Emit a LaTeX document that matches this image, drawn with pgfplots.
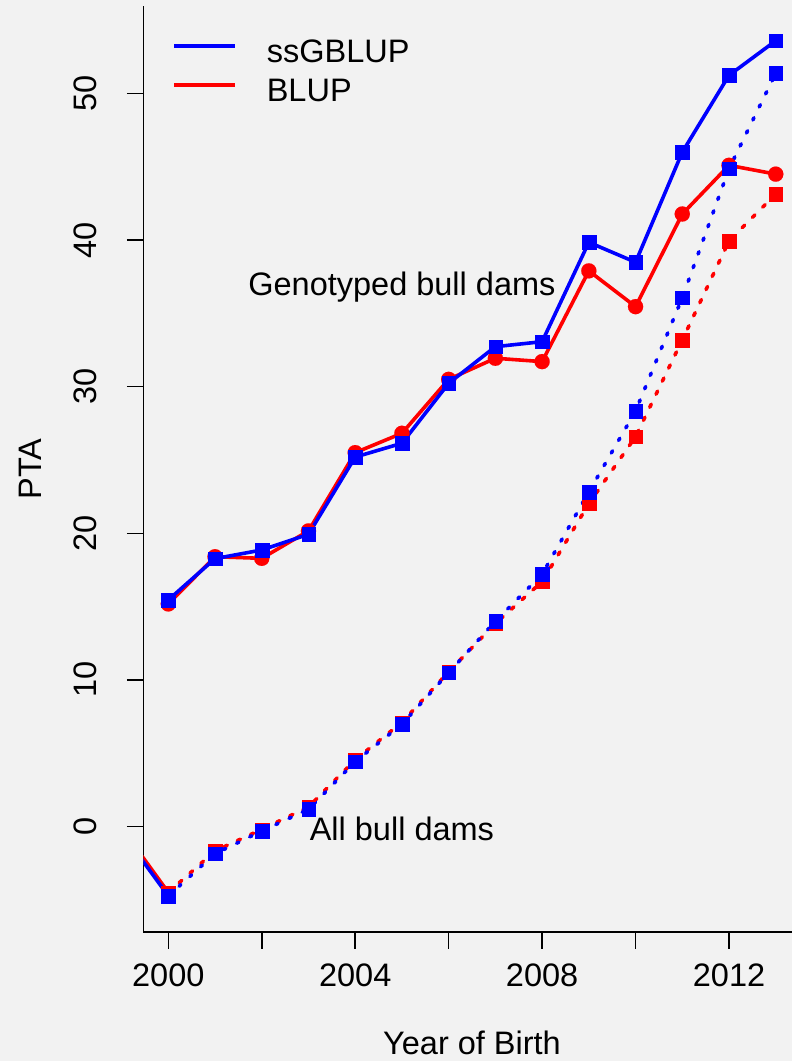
\documentclass[border=0pt]{standalone}
\usepackage{fontspec}
\setmainfont{Liberation Sans}
\usepackage{pgfplots}
\pgfplotsset{compat=1.18}
\definecolor{bg}{HTML}{F2F2F2}
\definecolor{pblue}{HTML}{0000FF}
\definecolor{pred}{HTML}{FF0000}
\newcommand{\bigfont}{\fontsize{32.5}{39}\selectfont}

\begin{document}
\begin{tikzpicture}
\path[use as bounding box, fill=bg] (0,0) rectangle (792pt,1061pt);
\begin{axis}[
  at={(143.3pt,129pt)}, anchor=south west,
  scale only axis, width=648.7pt, height=926pt,
  xmin=1999.465, xmax=2013.348, ymin=-7.20, ymax=55.97,
  axis x line=bottom, axis y line=left,
  axis line style={-, line width=1.5pt, black},
  tick align=outside, major tick length=16.5pt,
  tick style={line width=1.5pt, black},
  xtick={2000,2002,...,2012},
  xticklabels={2000,,2004,,2008,,2012},
  ytick={0,10,...,50},
  /pgf/number format/assume math mode=true,
  ticklabel style={font=\bigfont},
  xticklabel style={anchor=base, yshift=-38pt},
  yticklabel style={anchor=base, xshift=-30pt, rotate=90},
  every axis x label/.style={at={(axis cs:2006.5,-7.2)}, anchor=base, yshift=-122pt, font=\bigfont},
  every axis y label/.style={at={(rel axis cs:0,0.5)}, xshift=-101.3pt, rotate=90, anchor=base, font=\bigfont},
  xlabel={Year of Birth},
  ylabel={PTA},
  legend style={at={(rel axis cs:0,1)}, anchor=north west, xshift=28.7pt, yshift=-32pt,
    draw=none, fill=none, font=\bigfont, inner sep=0pt, row sep=15pt, column sep=30pt,
    nodes={inner sep=0pt, text height=24pt, text depth=0pt}},
  legend cell align=left,
  legend image code/.code={\draw[#1, mark=none, solid] (0pt,4.3pt) -- (61pt,4.3pt);},
  reverse legend,
  clip=true,
]
% lead-in segments from 1999 (outside the plotted range)
\addplot[pred, line width=3.6pt, forget plot] coordinates {(1999,-0.1) (2000,-4.5)};
\addplot[pblue, line width=3.6pt, forget plot] coordinates {(1999,-0.37) (2000,-4.74)};

% all bull dams, BLUP
\addplot[pred, line width=3.6pt, line cap=round, dash pattern=on 3.5pt off 11pt,
  mark=square*, mark size=6.8pt, mark options={solid, line width=0.1pt}, forget plot]
  coordinates {(2000,-4.5) (2001,-1.67) (2002,-0.2) (2003,1.33) (2004,4.55) (2005,7.1)
   (2006,10.55) (2007,13.85) (2008,16.7) (2009,22.02) (2010,26.59) (2011,33.19)
   (2012,39.94) (2013,43.14)};
% genotyped bull dams, BLUP
\addplot[pred, line width=3.6pt, mark=*, mark size=7.6pt, mark options={solid, fill=pred, line width=0.1pt}]
  coordinates {(2000,15.18) (2001,18.4) (2002,18.29) (2003,20.16) (2004,25.5) (2005,26.82)
   (2006,30.5) (2007,31.94) (2008,31.71) (2009,37.9) (2010,35.46) (2011,41.78)
   (2012,45.1) (2013,44.5)};
\addlegendentry{BLUP}
% all bull dams, ssGBLUP
\addplot[pblue, line width=3.6pt, line cap=round, dash pattern=on 2.5pt off 12pt,
  mark=square*, mark size=6.8pt, mark options={solid, line width=0.1pt}, forget plot]
  coordinates {(2000,-4.74) (2001,-1.86) (2002,-0.31) (2003,1.17) (2004,4.42) (2005,6.97)
   (2006,10.49) (2007,14.0) (2008,17.2) (2009,22.82) (2010,28.34) (2011,36.07)
   (2012,44.87) (2013,51.38)};
% genotyped bull dams, ssGBLUP
\addplot[pblue, line width=3.6pt, mark=square*, mark size=6.8pt, mark options={solid, line width=0.1pt}]
  coordinates {(2000,15.45) (2001,18.27) (2002,18.86) (2003,19.93) (2004,25.2) (2005,26.14)
   (2006,30.23) (2007,32.73) (2008,33.07) (2009,39.85) (2010,38.49) (2011,46.0)
   (2012,51.24) (2013,53.6)};
\addlegendentry{ssGBLUP}

\node[font=\bigfont, anchor=base] at (axis cs:2005,36.2) {Genotyped bull dams};
\node[font=\bigfont, anchor=base] at (axis cs:2005,-0.97) {All bull dams};
\end{axis}
\end{tikzpicture}
\end{document}
